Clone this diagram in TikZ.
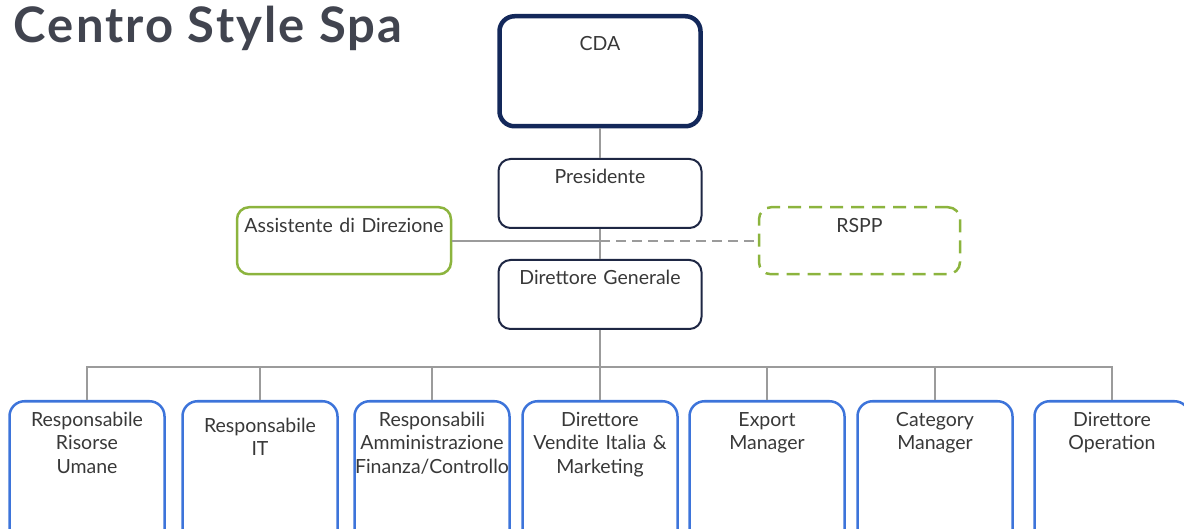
\documentclass[tikz,border=0pt]{standalone}
\usepackage{fontspec}
\setmainfont{Lato}
\newfontfamily\titlefont[LetterSpace=4.5]{Lato}
\definecolor{navy}{HTML}{13285A}
\definecolor{ink}{HTML}{1E2744}
\definecolor{leaf}{HTML}{8CB43E}
\definecolor{sky}{HTML}{3D74DA}
\definecolor{wirecol}{HTML}{9B9B9B}
\definecolor{txt}{HTML}{383838}
\definecolor{headcol}{HTML}{41444F}
\begin{document}
\begin{tikzpicture}
[x=1pt,y=-1pt,
 box/.style={draw,rounded corners=12pt,line width=2pt,anchor=north,text=txt,align=center,
   font=\fontsize{19.5}{23.5}\selectfont,inner xsep=0pt,inner ysep=12pt,text height=13pt},
 board/.style={box,draw=navy,line width=4.5pt,rounded corners=15pt,text width=201pt,inner ysep=21pt,text depth=55pt},
 lead/.style={box,draw=ink,text width=203pt,text depth=32pt},
 staff/.style={box,draw=leaf,line width=2.5pt,text depth=30pt},
 dept/.style={box,draw=sky,line width=2.5pt,text width=155pt,text depth=140pt,rounded corners=15pt},
 wire/.style={draw=wirecol,line width=2pt}]
\useasboundingbox (0,0) rectangle (1184,529);
\clip (0,0) rectangle (1184,529);
\node[anchor=base west,text=headcol,font=\titlefont\fontsize{49}{54}\selectfont\bfseries] (title) at (10,43) {Centro Style Spa};
\node[board] (cda) at (600,14) {CDA};
\node[lead] (pres) at (600,158) {Presidente};
\node[lead] (dg) at (600,259) {Direttore Generale};
\node[staff,text width=214pt] (ass) at (344,206) {Assistente di Direzione};
\node[staff,text width=201pt,dash pattern=on 13pt off 8pt] (rspp) at (859.5,206) {RSPP};
\node[dept] (hr) at (87,400) {Responsabile\\Risorse\\Umane};
\node[dept,text height=19pt] (it) at (260,400) {Responsabile\\IT};
\node[dept] (afc) at (432,400) {Responsabili\\Amministrazione\\Finanza/Controllo};
\node[dept] (vendite) at (600,400) {Direttore\\Vendite Italia \&\\Marketing};
\node[dept] (export) at (767,400) {Export\\Manager};
\node[dept] (category) at (935,400) {Category\\Manager};
\node[dept] (operation) at (1112,400) {Direttore\\Operation};
\coordinate (mid) at (pres.south |- ass.east);
\coordinate (bus) at (dg.south |- 0,367);
\draw[wire] (cda) -- (pres);
\draw[wire] (pres) -- (dg);
\draw[wire] (ass) -- (mid);
\draw[wire,dash pattern=on 10pt off 6pt] (mid) -- (rspp);
\draw[wire] (dg) -- (bus);
\foreach \n in {hr,it,afc,vendite,export,category,operation}
  \draw[wire] (bus) -| (\n);
\end{tikzpicture}
\end{document}
